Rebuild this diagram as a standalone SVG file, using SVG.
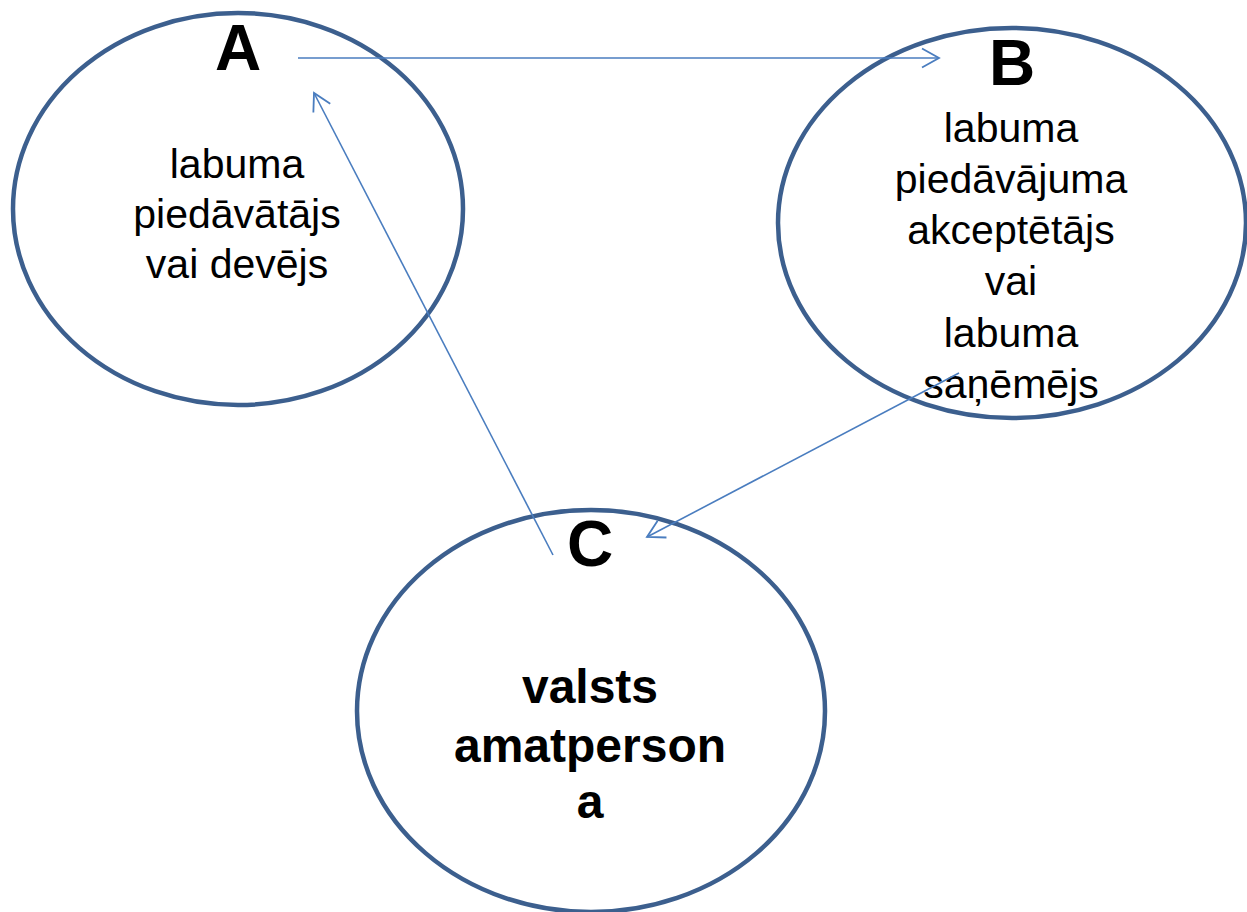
<svg xmlns="http://www.w3.org/2000/svg" width="1247" height="912" viewBox="0 0 1247 912">
<style>
.node{fill:#ffffff;stroke:#3C5F8E;stroke-width:4.5}
.t{font-family:"Liberation Sans",Arial,sans-serif;fill:#000;text-anchor:middle}
.lbl{font-size:64px;font-weight:bold}
.body{font-size:41px}
.bold{font-size:48px;font-weight:bold}
.edge{stroke:#4A7DBF;stroke-width:1.6;fill:none;marker-end:url(#arr)}
</style>
<defs>
<marker id="arr" markerUnits="userSpaceOnUse" markerWidth="24" markerHeight="24" refX="18" refY="10" orient="auto" viewBox="0 0 24 20">
<path d="M1,0.5 L18,10 L1,19.5" fill="none" stroke="#4A7DBF" stroke-width="1.8"/>
</marker>
</defs>
<g id="node-A">
<ellipse class="node" cx="238" cy="209" rx="225" ry="196"/>
<text class="t lbl" x="238" y="70">A</text>
<text class="t body" x="237" y="178">labuma</text>
<text class="t body" x="237" y="228">piedāvātājs</text>
<text class="t body" x="237" y="278">vai devējs</text>
</g>
<g id="node-B">
<ellipse class="node" cx="1012" cy="223" rx="234" ry="195"/>
<text class="t lbl" x="1012" y="85">B</text>
<text class="t body" x="1011" y="142">labuma</text>
<text class="t body" x="1011" y="193">piedāvājuma</text>
<text class="t body" x="1011" y="244">akceptētājs</text>
<text class="t body" x="1011" y="295">vai</text>
<text class="t body" x="1011" y="347">labuma</text>
<text class="t body" x="1011" y="398">saņēmējs</text>
</g>
<g id="node-C">
<ellipse class="node" cx="591" cy="711" rx="234" ry="201"/>
<text class="t lbl" x="590" y="566">C</text>
<text class="t bold" x="590" y="703">valsts</text>
<text class="t bold" x="590" y="762">amatperson</text>
<text class="t bold" x="590" y="818">a</text>
</g>
<g id="connectors">
<line class="edge" x1="298" y1="58" x2="939" y2="58"/>
<line class="edge" x1="553" y1="555" x2="314" y2="93"/>
<line class="edge" x1="959" y1="373" x2="647" y2="537"/>
</g>
</svg>
